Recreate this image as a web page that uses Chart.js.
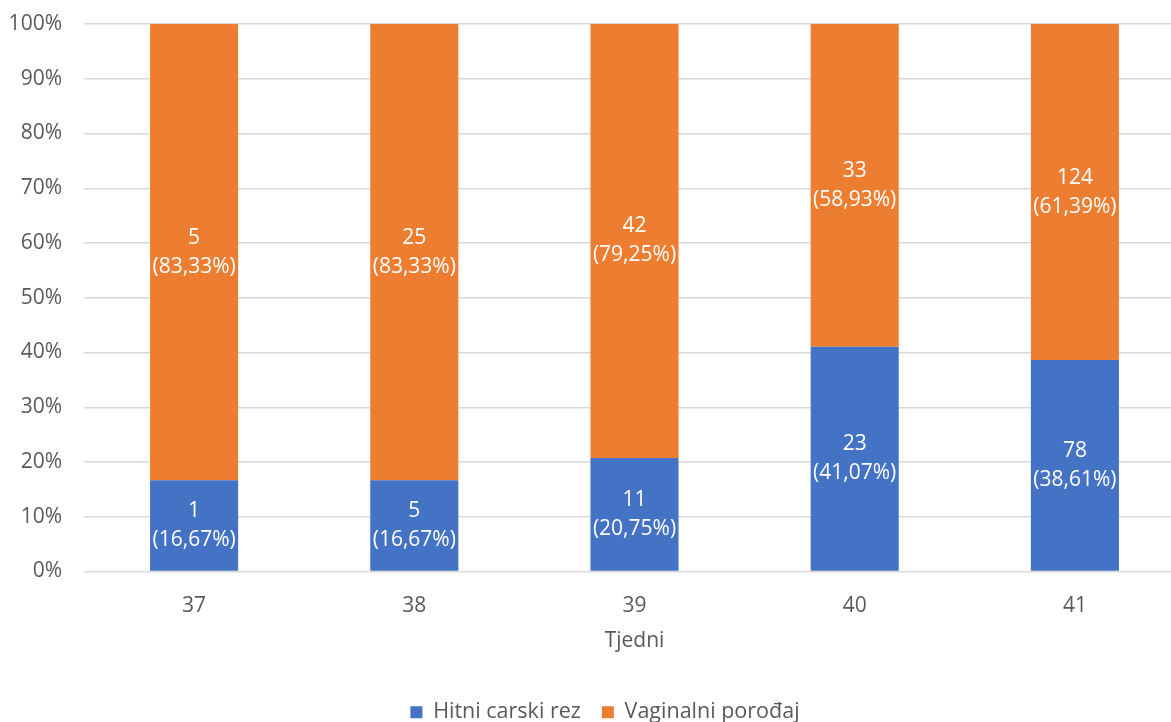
<!DOCTYPE html>
<html>
<head>
<meta charset="utf-8">
<script src="https://cdn.jsdelivr.net/npm/chart.js@4"></script>
<style>
  html, body { margin: 0; padding: 0; background: #fff; overflow: hidden; }
  #wrap { width: 1171px; height: 722px; overflow: hidden; }
</style>
</head>
<body>
<div id="wrap"><canvas id="chart" width="1210" height="722"></canvas></div>
<script>
const weeks = ["37", "38", "39", "40", "41"];
const carskiCount = [1, 5, 11, 23, 78];
const vaginalniCount = [5, 25, 42, 33, 124];
const carskiPct = [16.67, 16.67, 20.75, 41.07, 38.61];
const vaginalniPct = [83.33, 83.33, 79.25, 58.93, 61.39];
const yTicks = [0, 10, 20, 30, 40, 50, 60, 70, 80, 90, 100];

const FONT = "'Open Sans', sans-serif";
const grey = "#595959";

const fmt = v => v.toFixed(2).replace(".", ",");

// white two-line labels inside each segment
const segLabels = {
  id: "segLabels",
  afterDatasetsDraw(chart) {
    const ctx = chart.ctx;
    ctx.save();
    ctx.fillStyle = "#fff";
    ctx.font = "21px " + FONT;
    ctx.textAlign = "center";
    ctx.textBaseline = "middle";
    chart.data.datasets.forEach((ds, i) => {
      chart.getDatasetMeta(i).data.forEach((bar, j) => {
        const cy = (bar.y + bar.base) / 2;
        ctx.fillText(String(ds.counts[j]), bar.x, cy - 14.5);
        ctx.fillText("(" + fmt(ds.data[j]) + "%)", bar.x, cy + 14.5);
      });
    });
    ctx.restore();
  }
};

const noPad = s => { s.paddingTop = 0; s.paddingBottom = 0; };

new Chart(document.getElementById("chart"), {
  type: "bar",
  data: {
    labels: weeks,
    datasets: [
      { label: "Hitni carski rez", data: carskiPct, counts: carskiCount, backgroundColor: "#4472C4" },
      { label: "Vaginalni porođaj", data: vaginalniPct, counts: vaginalniCount, backgroundColor: "#ED7D31" }
    ]
  },
  options: {
    responsive: false,
    animation: false,
    devicePixelRatio: 1,
    layout: { padding: { top: 24, left: 0, right: 0, bottom: -11 } },
    datasets: { bar: { categoryPercentage: 1, barPercentage: 0.4 } },
    plugins: {
      tooltip: { enabled: false },
      legend: {
        position: "bottom",
        labels: { font: { family: FONT, size: 21.5 }, color: grey, boxWidth: 12, boxHeight: 12, padding: 21 }
      }
    },
    scales: {
      x: {
        stacked: true,
        grid: { display: false },
        border: { display: false },
        ticks: { color: grey, font: { family: FONT, size: 21 }, padding: 14 },
        title: { display: true, text: "Tjedni", color: grey, font: { family: FONT, size: 21 }, padding: { top: 0, bottom: 27 } },
        afterFit: s => { s.height = 109; }
      },
      y: {
        stacked: true,
        min: 0,
        max: 100,
        afterBuildTicks: s => { s.ticks = yTicks.map(v => ({ value: v })); },
        grid: { color: "#d9d9d9", lineWidth: 1.5, drawTicks: false },
        border: { display: false },
        ticks: { color: grey, font: { family: FONT, size: 21 }, padding: 22, callback: v => v + "%" },
        afterFit: s => { s.width = 84; noPad(s); }
      },
      yr: {
        position: "right",
        display: true,
        grid: { display: false },
        border: { display: false },
        ticks: { display: false },
        afterFit: s => { s.width = 25; noPad(s); }
      }
    }
  },
  plugins: [segLabels]
});
</script>
</body>
</html>
